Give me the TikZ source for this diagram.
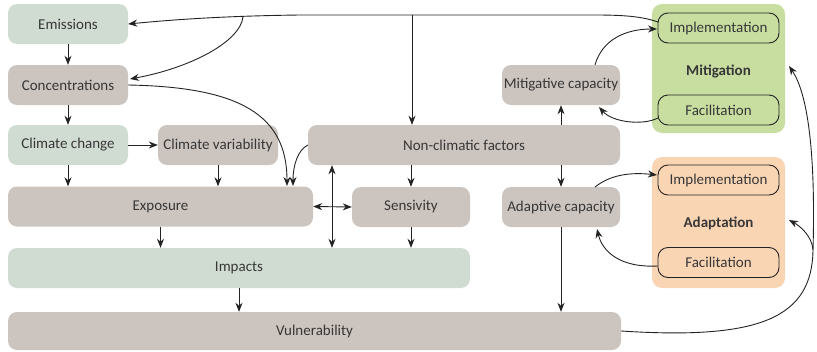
\documentclass[tikz,border=0pt]{standalone}
\usepackage{fontspec}
\setmainfont{Carlito}
\usetikzlibrary{arrows.meta,calc}
\definecolor{gbox}{RGB}{208,220,210}
\definecolor{bbox}{RGB}{204,196,191}
\definecolor{mitcol}{RGB}{200,222,160}
\definecolor{adacol}{RGB}{250,213,180}
\definecolor{txt}{RGB}{55,55,55}
\definecolor{ln}{RGB}{35,35,35}
\begin{document}
\begin{tikzpicture}[x=1pt,y=-1pt,
  box/.style={rounded corners=9pt, inner sep=0pt, minimum height=40pt, text=txt, font=\fontsize{15}{17}\selectfont},
  gb/.style={box, fill=gbox},
  bb/.style={box, fill=bbox},
  grp/.style={rounded corners=10pt, inner sep=0pt, minimum width=133pt},
  sub/.style={draw=ln, line width=0.9pt, rounded corners=10pt, minimum width=121pt, minimum height=30pt, inner sep=0pt, text=txt, font=\fontsize{15}{17}\selectfont},
  lab/.style={text=txt, font=\fontsize{15}{17}\selectfont\bfseries},
  arr/.style={draw=ln, line width=0.9pt, -{Stealth[length=9pt,width=7pt]}},
  dbl/.style={draw=ln, line width=0.9pt, {Stealth[length=9pt,width=7pt]}-{Stealth[length=9pt,width=7pt]}}]
\useasboundingbox (0,0) rectangle (817,351);
% groups
\node[grp, fill=mitcol, minimum height=129pt] (mit) at (718.5,68.5) {};
\node[grp, fill=adacol, minimum height=131pt] (ada) at (718.5,222.5) {};
\node[sub] (mimp) at (718.5,28) {Implementation};
\node[sub] (mfac) at (718.5,110) {Facilitation};
\node[lab] (mlab) at (718.5,71) {Mitigation};
\node[sub] (aimp) at (718.5,180) {Implementation};
\node[sub] (afac) at (718.5,262.5) {Facilitation};
\node[lab] (alab) at (718.5,223) {Adaptation};
% boxes
\node[gb, minimum width=120pt] (em) at (68,24) {Emissions};
\node[bb, minimum width=120pt] (conc) at (68,85) {Concentrations};
\node[gb, minimum width=120pt] (cc) at (68,145) {Climate change};
\node[bb, minimum width=120pt] (cv) at (218,145) {Climate variability};
\node[bb, minimum width=305pt] (expo) at (160.5,206.5) {Exposure};
\node[gb, minimum width=462pt] (imp) at (239,268) {Impacts};
\node[bb, minimum width=613pt, minimum height=38pt] (vul) at (314.5,331) {Vulnerability};
\node[bb, minimum width=312pt] (ncf) at (464,145) {Non-climatic factors};
\node[bb, minimum width=118pt] (mc) at (561,85) {Mitigative capacity};
\node[bb, minimum width=118pt] (sens) at (411,207) {Sensivity};
\node[bb, minimum width=118pt] (ac) at (561,207) {Adaptive capacity};
% coordinates
\coordinate (mimpT) at (658,22);
\coordinate (br1) at (243,17);
\coordinate (br2) at (412,15);
\coordinate (concA) at (130,79);
\coordinate (vx) at (332,0);
\coordinate (mcT) at (595,65);
\coordinate (mimpA) at (657,29);
\coordinate (mfacL) at (658,118);
\coordinate (mcA) at (599,107);
\coordinate (acT) at (595,187);
\coordinate (aimpA) at (657,175);
\coordinate (afacL) at (658,266);
\coordinate (acA) at (597,229);
\coordinate (vr) at (813,250);
\coordinate (mitR) at (789,66);
\coordinate (adaR) at (789,220);
% connectors
\draw[arr] (mimpT) .. controls (635,14) and (610,15) .. (560,15) -- (300,15) .. controls (220,16) and (170,20) .. (em.east);
\draw[arr] (br1) .. controls (240,42) and (190,68) .. (concA);
\draw[arr] (br2) -- (br2 |- ncf.north);
\draw[arr] (em) -- (conc);
\draw[arr] (conc) -- (cc);
\draw[arr] (cc) -- (cv);
\draw[arr] (cc.south) -- (cc.south |- expo.north);
\draw[arr] (cv.south) -- (cv.south |- expo.north);
\draw[arr] (conc.east) .. controls (240,87) and (287,115) .. (287,186);
\draw[arr] (ncf.west) .. controls (298,150) and (293,165) .. (293,186);
\draw[dbl] (expo.east) -- (sens.west);
\draw[dbl] (vx |- ncf.south) -- (vx |- imp.north);
\draw[arr] (sens.north |- ncf.south) -- (sens.north);
\draw[arr] (mc.south |- ncf.north) -- (mc.south);
\draw[arr] (ac.north |- ncf.south) -- (ac.north);
\draw[arr] (sens.south) -- (sens.south |- imp.north);
\draw[arr] (expo.south) -- (expo.south |- imp.north);
\draw[arr] (imp.south) -- (imp.south |- vul.north);
\draw[arr] (ac.south) -- (ac.south |- vul.north);
\draw[arr] (mcT) .. controls (602,40) and (625,29) .. (mimpA);
\draw[arr] (mfacL) .. controls (642,126) and (612,122) .. (mcA);
\draw[arr] (acT) .. controls (610,175) and (630,172) .. (aimpA);
\draw[arr] (afacL) .. controls (618,268) and (602,250) .. (acA);
\draw[arr] (vul.east) .. controls (760,340) and (812,318) .. (vr) .. controls (815,180) and (812,100) .. (mitR);
\draw[arr] (vr) .. controls (812,236) and (800,226) .. (adaR);
\end{tikzpicture}
\end{document}
